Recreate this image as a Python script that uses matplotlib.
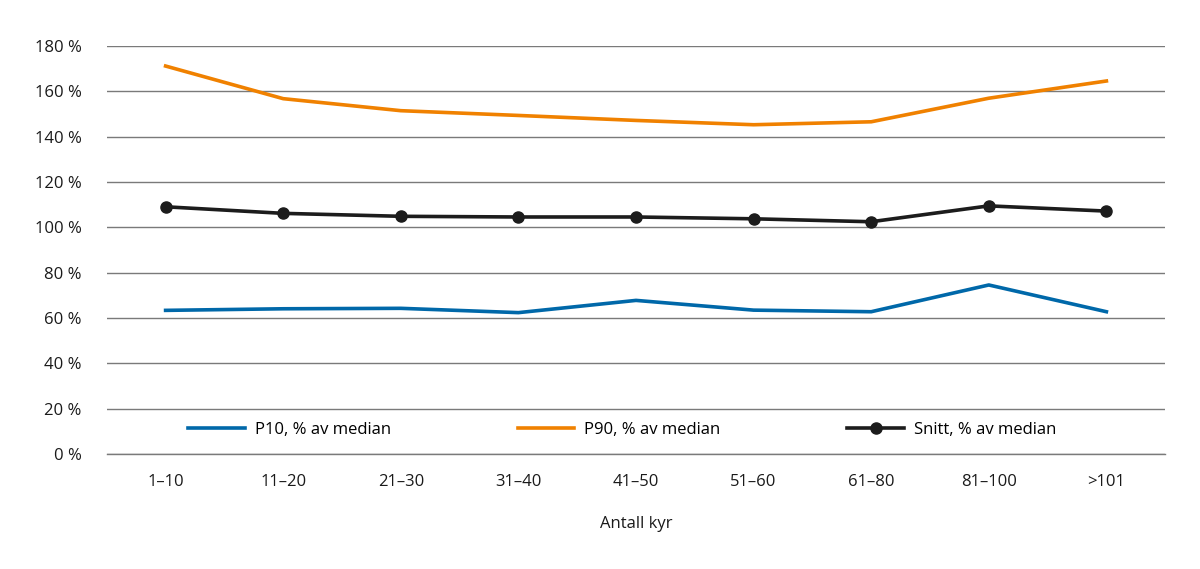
import matplotlib
matplotlib.use("Agg")
from matplotlib import pyplot as plt
from matplotlib.ticker import FuncFormatter

categories = ["1–10", "11–20", "21–30", "31–40", "41–50", "51–60", "61–80", "81–100", ">101"]
p10 = [63.4, 64.1, 64.3, 62.4, 67.8, 63.5, 62.8, 74.6, 62.8]
p90 = [171.2, 156.8, 151.5, 149.4, 147.2, 145.3, 146.6, 157.0, 164.6]
snitt = [109.1, 106.2, 104.9, 104.6, 104.6, 103.8, 102.5, 109.5, 107.2]

plt.rcParams['font.family'] = ['Open Sans', 'DejaVu Sans']

fig = plt.figure(figsize=(12, 5.69), dpi=100)
ax = fig.add_axes([0.089, 0.202, 0.882, 0.717])

x = list(range(len(categories)))
ax.plot(x, p10, color='#0068a9', lw=2.6, label='P10, % av median', zorder=3)
ax.plot(x, p90, color='#f08100', lw=2.6, label='P90, % av median', zorder=3)
ax.plot(x, snitt, color='#1c1c1c', lw=2.6, marker='o', markersize=8,
        label='Snitt, % av median', zorder=4)

ax.set_xlim(-0.5, len(categories) - 0.5)
ax.set_ylim(0, 180)
ax.set_yticks(range(0, 181, 20))
ax.yaxis.set_major_formatter(FuncFormatter(lambda v, p: f"{int(v)} %"))
ax.set_xticks(x)
ax.set_xticklabels(categories)
ax.grid(axis='y', color='#7a7a7a', lw=1)
ax.axhline(0, color='#7a7a7a', lw=1, clip_on=False, zorder=1)
ax.set_axisbelow(True)
for s in ax.spines.values():
    s.set_visible(False)
ax.tick_params(axis='both', length=0, labelsize=12, colors='#1a1a1a')
ax.tick_params(axis='y', pad=18)
ax.tick_params(axis='x', pad=14)
ax.set_xlabel('Antall kyr', fontsize=12, labelpad=19, color='#1a1a1a')

leg = ax.legend(loc='center', bbox_to_anchor=(0.487, 0.059), ncol=3, frameon=False,
                fontsize=12, handlelength=3.4, columnspacing=7.6, handletextpad=0.6)

fig.savefig('out.png', dpi=100)
